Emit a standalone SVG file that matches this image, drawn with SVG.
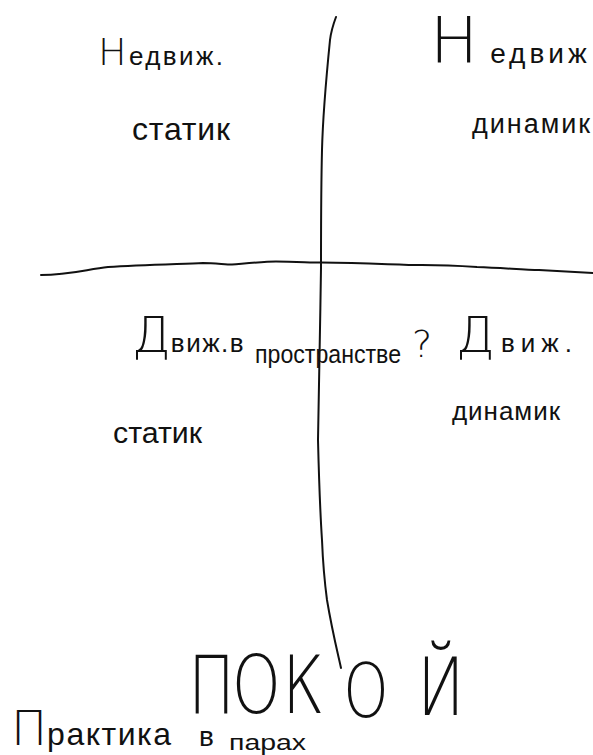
<svg xmlns="http://www.w3.org/2000/svg" width="593" height="755" viewBox="0 0 593 755">
<style>
text{font-family:"Liberation Sans","DejaVu Sans",sans-serif;fill:#111;}
.thin{font-family:"DejaVu Sans","Liberation Sans",sans-serif;font-weight:200;}
.line{fill:none;stroke:#111;stroke-width:2;stroke-linecap:round;stroke-linejoin:round;}
</style>
<rect width="593" height="755" fill="#fff"/>
<g id="connectors">
<path class="line" d="M41,275 C70,275 88,269 108,267 C140,265 180,264 203,263 C215,263 225,264.5 232,264.5 C250,263 265,261.5 276,261.5 C295,261.5 310,262.6 321,262.6 C370,263 400,265 422,265 C445,265 462,266 477,267 C505,268 525,270 539,270 C560,271 577,272 593,273"/>
<path class="line" d="M336,17 C333,25 331,32 330,40 C326,80 323,110 322,150 C321,190 321,230 321,268 C320,330 319,400 318,440 C319,480 320,510 322,540 C323,565 325,585 327,600 C332,630 337,650 341,668"/>
</g>
<g id="q-top-left">
<text x="98" y="65" textLength="125" lengthAdjust="spacing"><tspan class="thin" font-size="38">Н</tspan><tspan font-size="26">едвиж.</tspan></text>
<text x="132" y="140" font-size="32" textLength="98" lengthAdjust="spacing">статик</text>
</g>
<g id="q-top-right">
<text x="430" y="63"><tspan class="thin" font-size="64">Н</tspan><tspan font-size="28" letter-spacing="4" dx="12">едвиж</tspan></text>
<text x="472" y="133" font-size="27" textLength="118" lengthAdjust="spacing">динамик</text>
</g>
<g id="q-bottom-left">
<text x="132" y="352"><tspan class="thin" font-size="50">Д</tspan><tspan font-size="26" letter-spacing="1.5">виж.в</tspan> <tspan x="255" y="363" font-size="26" textLength="146" lengthAdjust="spacingAndGlyphs">пространстве</tspan> <tspan x="412" y="357" class="thin" font-size="38">?</tspan></text>
<text x="113" y="443" font-size="30" textLength="89" lengthAdjust="spacingAndGlyphs">статик</text>
</g>
<g id="q-bottom-right">
<text x="456" y="352" textLength="116" lengthAdjust="spacing"><tspan class="thin" font-size="50">Д</tspan><tspan font-size="26">виж.</tspan></text>
<text x="452" y="420" font-size="26" textLength="108" lengthAdjust="spacing">динамик</text>
</g>
<g id="title">
<text transform="translate(188,713) scale(0.78,1)" x="0 56 121 199 294" y="0" class="thin" font-size="80">ПОК<tspan font-size="74" dy="4">О</tspan><tspan dy="-2">Й</tspan></text>
</g>
<g id="note">
<text x="11" y="745"><tspan class="thin" font-size="48">П</tspan><tspan font-size="32" letter-spacing="1.5">рактика</tspan> <tspan x="199" y="746" font-size="28">в</tspan> <tspan x="229" y="750" font-size="22" textLength="77" lengthAdjust="spacingAndGlyphs">парах</tspan></text>
</g>
</svg>
